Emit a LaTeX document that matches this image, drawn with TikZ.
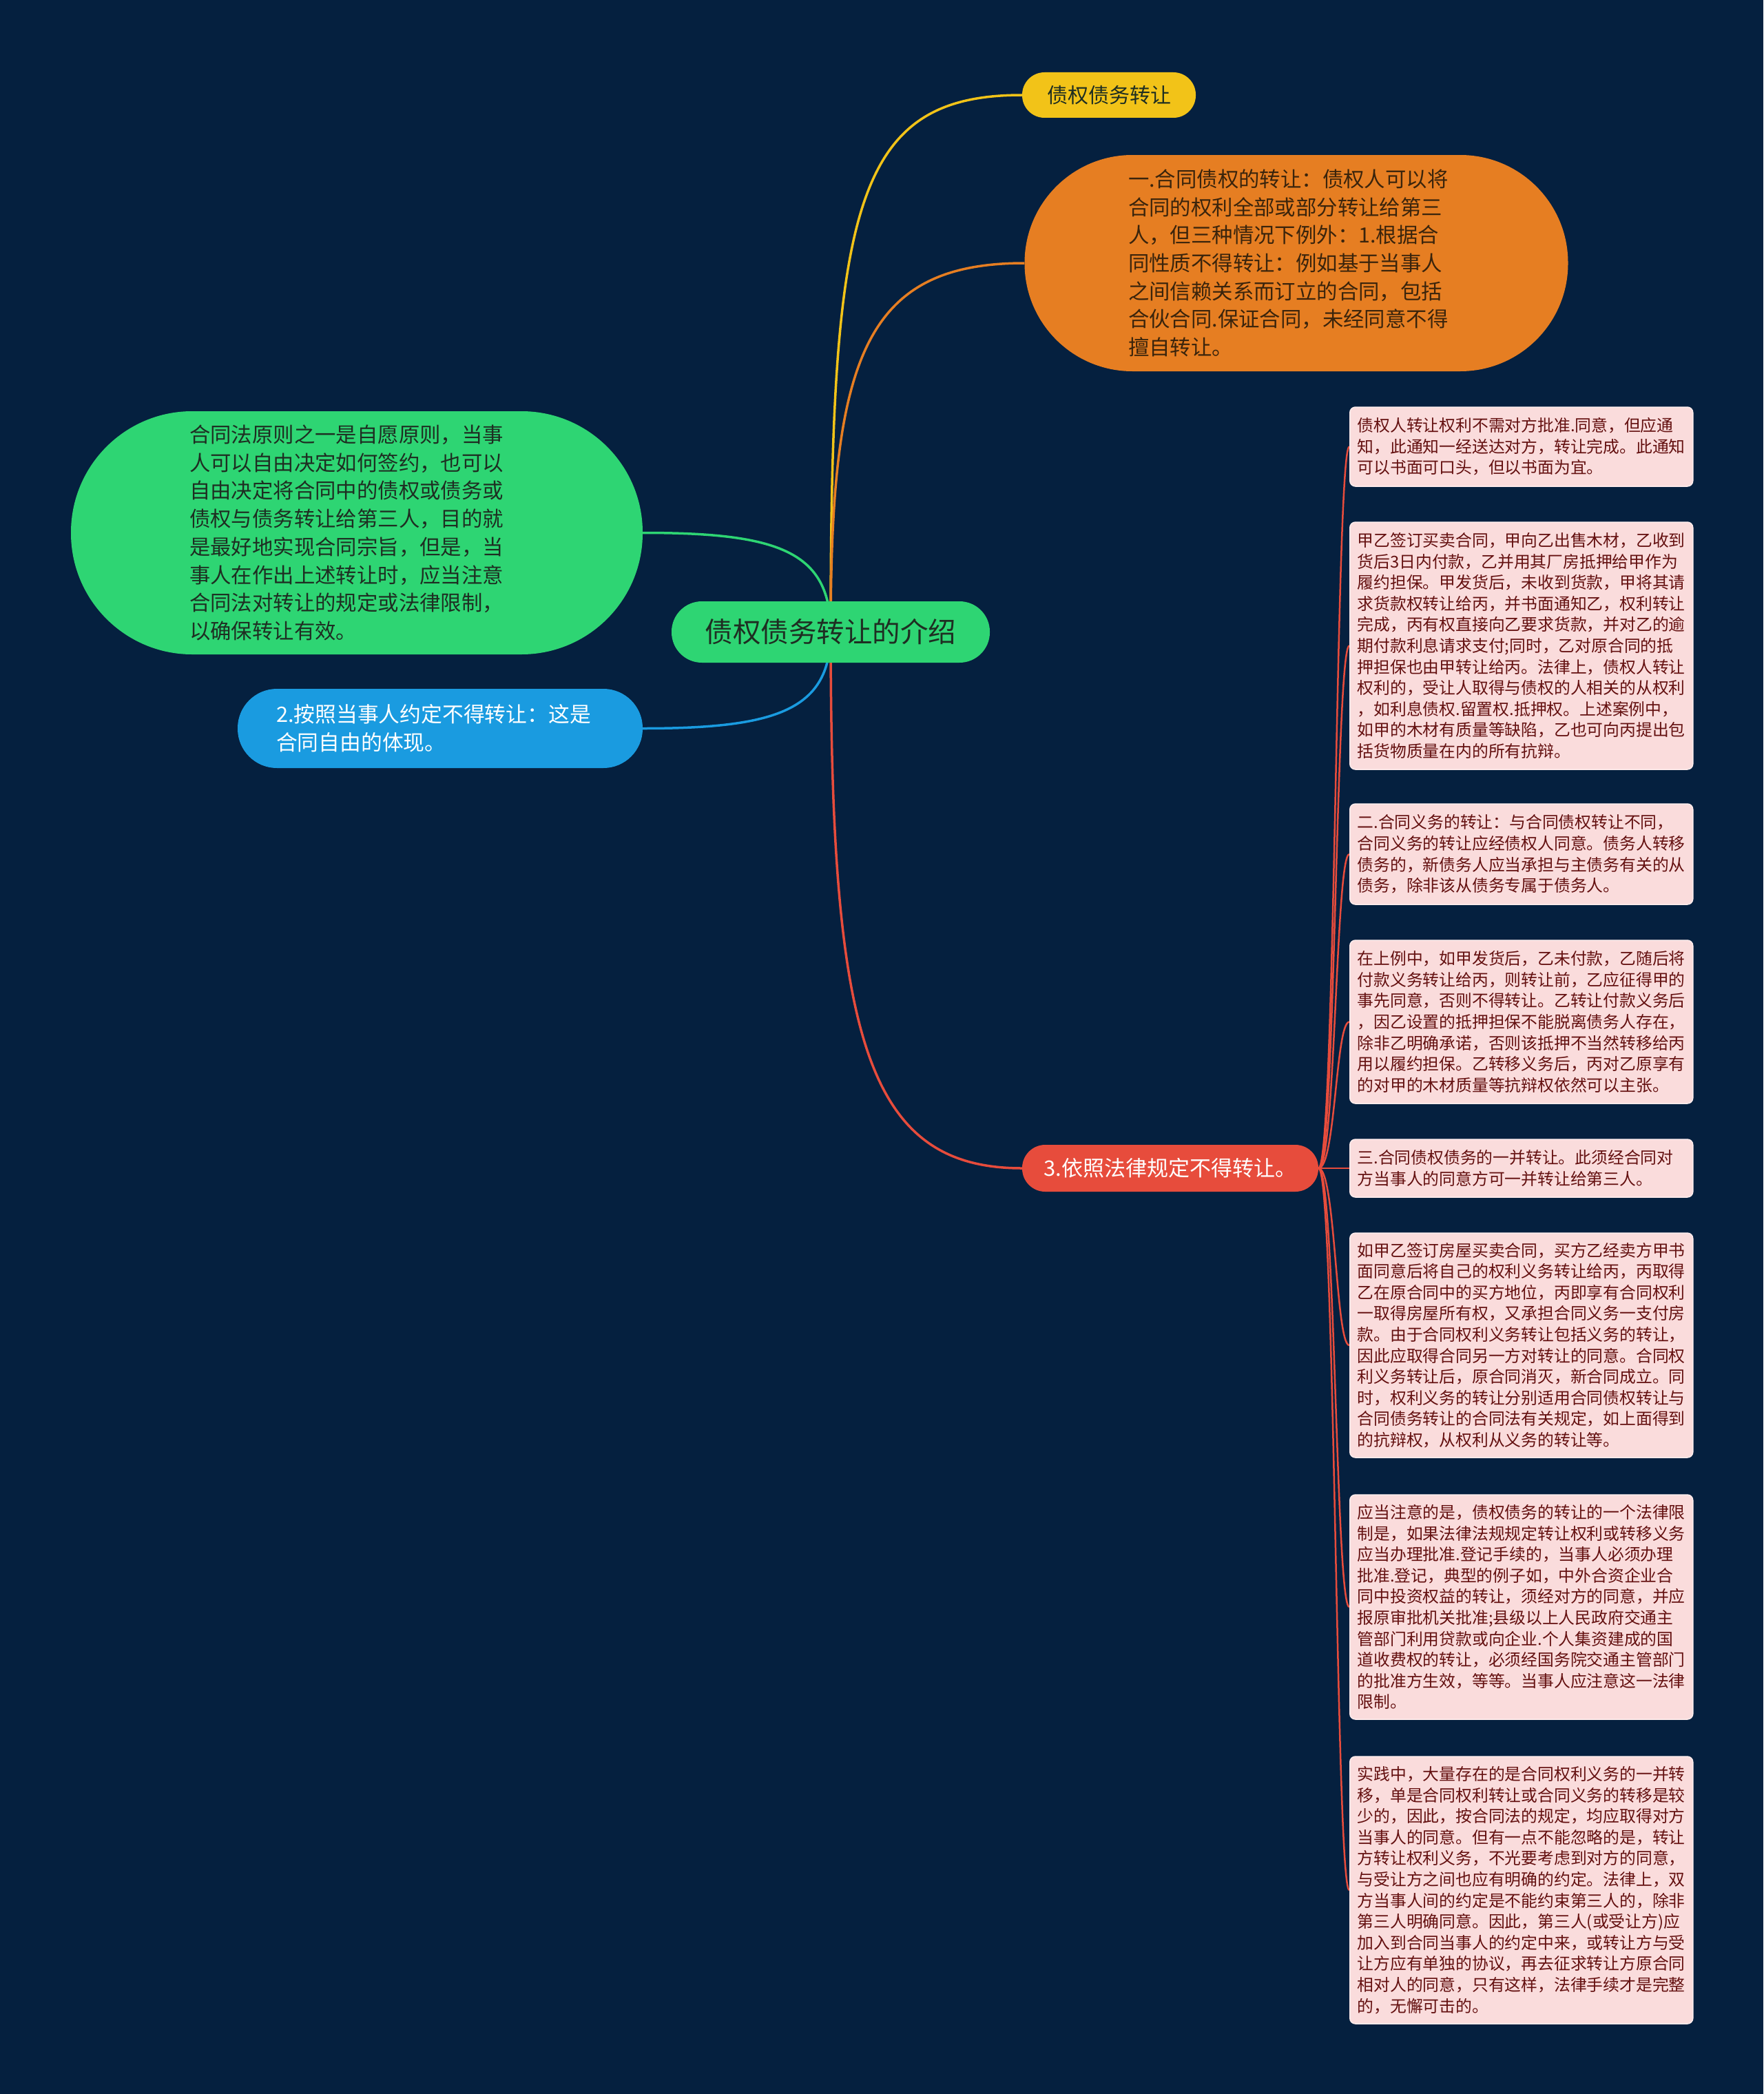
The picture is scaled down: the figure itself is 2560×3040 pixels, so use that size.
\documentclass[tikz,border=0pt]{standalone}
\usepackage{fontspec}
\setmainfont{Noto Sans CJK SC}
\usetikzlibrary{backgrounds}
\definecolor{bgc}{HTML}{05203F}
\definecolor{cyellow}{HTML}{F2C318}
\definecolor{corange}{HTML}{E67E22}
\definecolor{cgreen}{HTML}{2ED573}
\definecolor{cblue}{HTML}{1A9BE0}
\definecolor{cred}{HTML}{E74C3C}
\definecolor{pinkc}{HTML}{FADCDC}
\definecolor{pinkb}{HTML}{FFEDED}
\definecolor{pinkt}{HTML}{641010}
\definecolor{darkt}{HTML}{1E2E22}
\definecolor{browt}{HTML}{3A240C}
\begin{document}
\begin{tikzpicture}[x=1pt,y=-1pt,
  pill/.style={rectangle, inner sep=0pt},
  rootbox/.style={pill, fill=cgreen, minimum width=462, minimum height=89, rounded corners=44, text=darkt, font=\fontsize{40.5}{48}\selectfont},
  yellowbox/.style={pill, fill=cyellow, minimum width=252, minimum height=66, rounded corners=32.5, text=darkt, font=\fontsize{30}{40}\selectfont},
  orangebox/.style={pill, fill=corange, minimum width=789, minimum height=314, rounded corners=156.5, text=browt, text width=488, align=left, font=\fontsize{30.4}{40.7}\selectfont},
  greenbox/.style={pill, fill=cgreen, minimum width=830, minimum height=353, rounded corners=176, text=darkt, text width=486, align=left, font=\fontsize{30.4}{40.7}\selectfont},
  bluebox/.style={pill, fill=cblue, minimum width=588, minimum height=115, rounded corners=57, text=white, text width=476, align=left, font=\fontsize{30.8}{41}\selectfont},
  redbox/.style={pill, fill=cred, minimum width=430, minimum height=68, rounded corners=33.5, text=white, font=\fontsize{31}{40}\selectfont},
  pinkbox/.style={rectangle, rounded corners=8, fill=pinkc, draw=pinkb, line width=1.5, text=pinkt, text width=476, inner xsep=11, inner ysep=0, minimum width=498, align=left, anchor=west, font=\fontsize{23.8}{30.6}\selectfont},
  conn/.style={line width=3.5},
  subconn/.style={cred, line width=2.5}
]
\useasboundingbox (0,0) rectangle (2560,3040);

\node[rootbox] (root) at (1206,917.5) {债权债务转让的介绍};
\node[yellowbox] (yel) at (1610,138) {债权债务转让};
\node[orangebox] (ora) at (1882,382) {一.合同债权的转让：债权人可以将\\合同的权利全部或部分转让给第三\\人，但三种情况下例外：1.根据合\\同性质不得转让：例如基于当事人\\之间信赖关系而订立的合同，包括\\合伙合同.保证合同，未经同意不得\\擅自转让。};
\node[greenbox] (gre) at (518,773.5) {合同法原则之一是自愿原则，当事\\人可以自由决定如何签约，也可以\\自由决定将合同中的债权或债务或\\债权与债务转让给第三人，目的就\\是最好地实现合同宗旨，但是，当\\事人在作出上述转让时，应当注意\\合同法对转让的规定或法律限制，\\以确保转让有效。};
\node[bluebox] (blu) at (639,1057.5) {2.按照当事人约定不得转让：这是\\合同自由的体现。};
\node[redbox] (red) at (1699,1696) {3.依照法律规定不得转让。};

\node[pinkbox, minimum height=115] (p1) at (1959,648.5) {债权人转让权利不需对方批准.同意，但应通\\知，此通知一经送达对方，转让完成。此通知\\可以书面可口头，但以书面为宜。};
\node[pinkbox, minimum height=359] (p2) at (1959,937.5) {甲乙签订买卖合同，甲向乙出售木材，乙收到\\货后3日内付款，乙并用其厂房抵押给甲作为\\履约担保。甲发货后，未收到货款，甲将其请\\求货款权转让给丙，并书面通知乙，权利转让\\完成，丙有权直接向乙要求货款，并对乙的逾\\期付款利息请求支付;同时，乙对原合同的抵\\押担保也由甲转让给丙。法律上，债权人转让\\权利的，受让人取得与债权的人相关的从权利\\，如利息债权.留置权.抵押权。上述案例中，\\如甲的木材有质量等缺陷，乙也可向丙提出包\\括货物质量在内的所有抗辩。};
\node[pinkbox, minimum height=146] (p3) at (1959,1240) {二.合同义务的转让：与合同债权转让不同，\\合同义务的转让应经债权人同意。债务人转移\\债务的，新债务人应当承担与主债务有关的从\\债务，除非该从债务专属于债务人。};
\node[pinkbox, minimum height=237] (p4) at (1959,1483.5) {在上例中，如甲发货后，乙未付款，乙随后将\\付款义务转让给丙，则转让前，乙应征得甲的\\事先同意，否则不得转让。乙转让付款义务后\\，因乙设置的抵押担保不能脱离债务人存在，\\除非乙明确承诺，否则该抵押不当然转移给丙\\用以履约担保。乙转移义务后，丙对乙原享有\\的对甲的木材质量等抗辩权依然可以主张。};
\node[pinkbox, minimum height=84] (p5) at (1959,1696) {三.合同债权债务的一并转让。此须经合同对\\方当事人的同意方可一并转让给第三人。};
\node[pinkbox, minimum height=326] (p6) at (1959,1953) {如甲乙签订房屋买卖合同，买方乙经卖方甲书\\面同意后将自己的权利义务转让给丙，丙取得\\乙在原合同中的买方地位，丙即享有合同权利\\一取得房屋所有权，又承担合同义务一支付房\\款。由于合同权利义务转让包括义务的转让，\\因此应取得合同另一方对转让的同意。合同权\\利义务转让后，原合同消灭，新合同成立。同\\时，权利义务的转让分别适用合同债权转让与\\合同债务转让的合同法有关规定，如上面得到\\的抗辩权，从权利从义务的转让等。};
\node[pinkbox, minimum height=326] (p7) at (1959,2333) {应当注意的是，债权债务的转让的一个法律限\\制是，如果法律法规规定转让权利或转移义务\\应当办理批准.登记手续的，当事人必须办理\\批准.登记，典型的例子如，中外合资企业合\\同中投资权益的转让，须经对方的同意，并应\\报原审批机关批准;县级以上人民政府交通主\\管部门利用贷款或向企业.个人集资建成的国\\道收费权的转让，必须经国务院交通主管部门\\的批准方生效，等等。当事人应注意这一法律\\限制。};
\node[pinkbox, minimum height=388] (p8) at (1959,2744) {实践中，大量存在的是合同权利义务的一并转\\移，单是合同权利转让或合同义务的转移是较\\少的，因此，按合同法的规定，均应取得对方\\当事人的同意。但有一点不能忽略的是，转让\\方转让权利义务，不光要考虑到对方的同意，\\与受让方之间也应有明确的约定。法律上，双\\方当事人间的约定是不能约束第三人的，除非\\第三人明确同意。因此，第三人(或受让方)应\\加入到合同当事人的约定中来，或转让方与受\\让方应有单独的协议，再去征求转让方原合同\\相对人的同意，只有这样，法律手续才是完整\\的，无懈可击的。};

\begin{scope}[on background layer]
\fill[bgc] (0,0) rectangle (2560,3040);
\draw[conn, cyellow] (root.center) .. controls (1206,300) and (1240,138) .. (yel.west);
\draw[conn, corange] (root.center) .. controls (1206,520) and (1255,382) .. (ora.west);
\draw[conn, cgreen] (root.center) .. controls (1206,800) and (1130,773.5) .. (gre.east);
\draw[conn, cblue] (root.center) .. controls (1206,1030) and (1130,1057.5) .. (blu.east);
\draw[conn, cred] (root.center) .. controls (1206,1500) and (1255,1696) .. (red.west);
\draw[subconn] (red.east) .. controls (1939,1696) and (1939,648.5) .. (p1.west);
\draw[subconn] (red.east) .. controls (1939,1696) and (1939,937.5) .. (p2.west);
\draw[subconn] (red.east) .. controls (1939,1696) and (1939,1240) .. (p3.west);
\draw[subconn] (red.east) .. controls (1939,1696) and (1939,1483.5) .. (p4.west);
\draw[subconn] (red.east) -- (p5.west);
\draw[subconn] (red.east) .. controls (1939,1696) and (1939,1953) .. (p6.west);
\draw[subconn] (red.east) .. controls (1939,1696) and (1939,2333) .. (p7.west);
\draw[subconn] (red.east) .. controls (1939,1696) and (1939,2744) .. (p8.west);
\end{scope}
\end{tikzpicture}
\end{document}
